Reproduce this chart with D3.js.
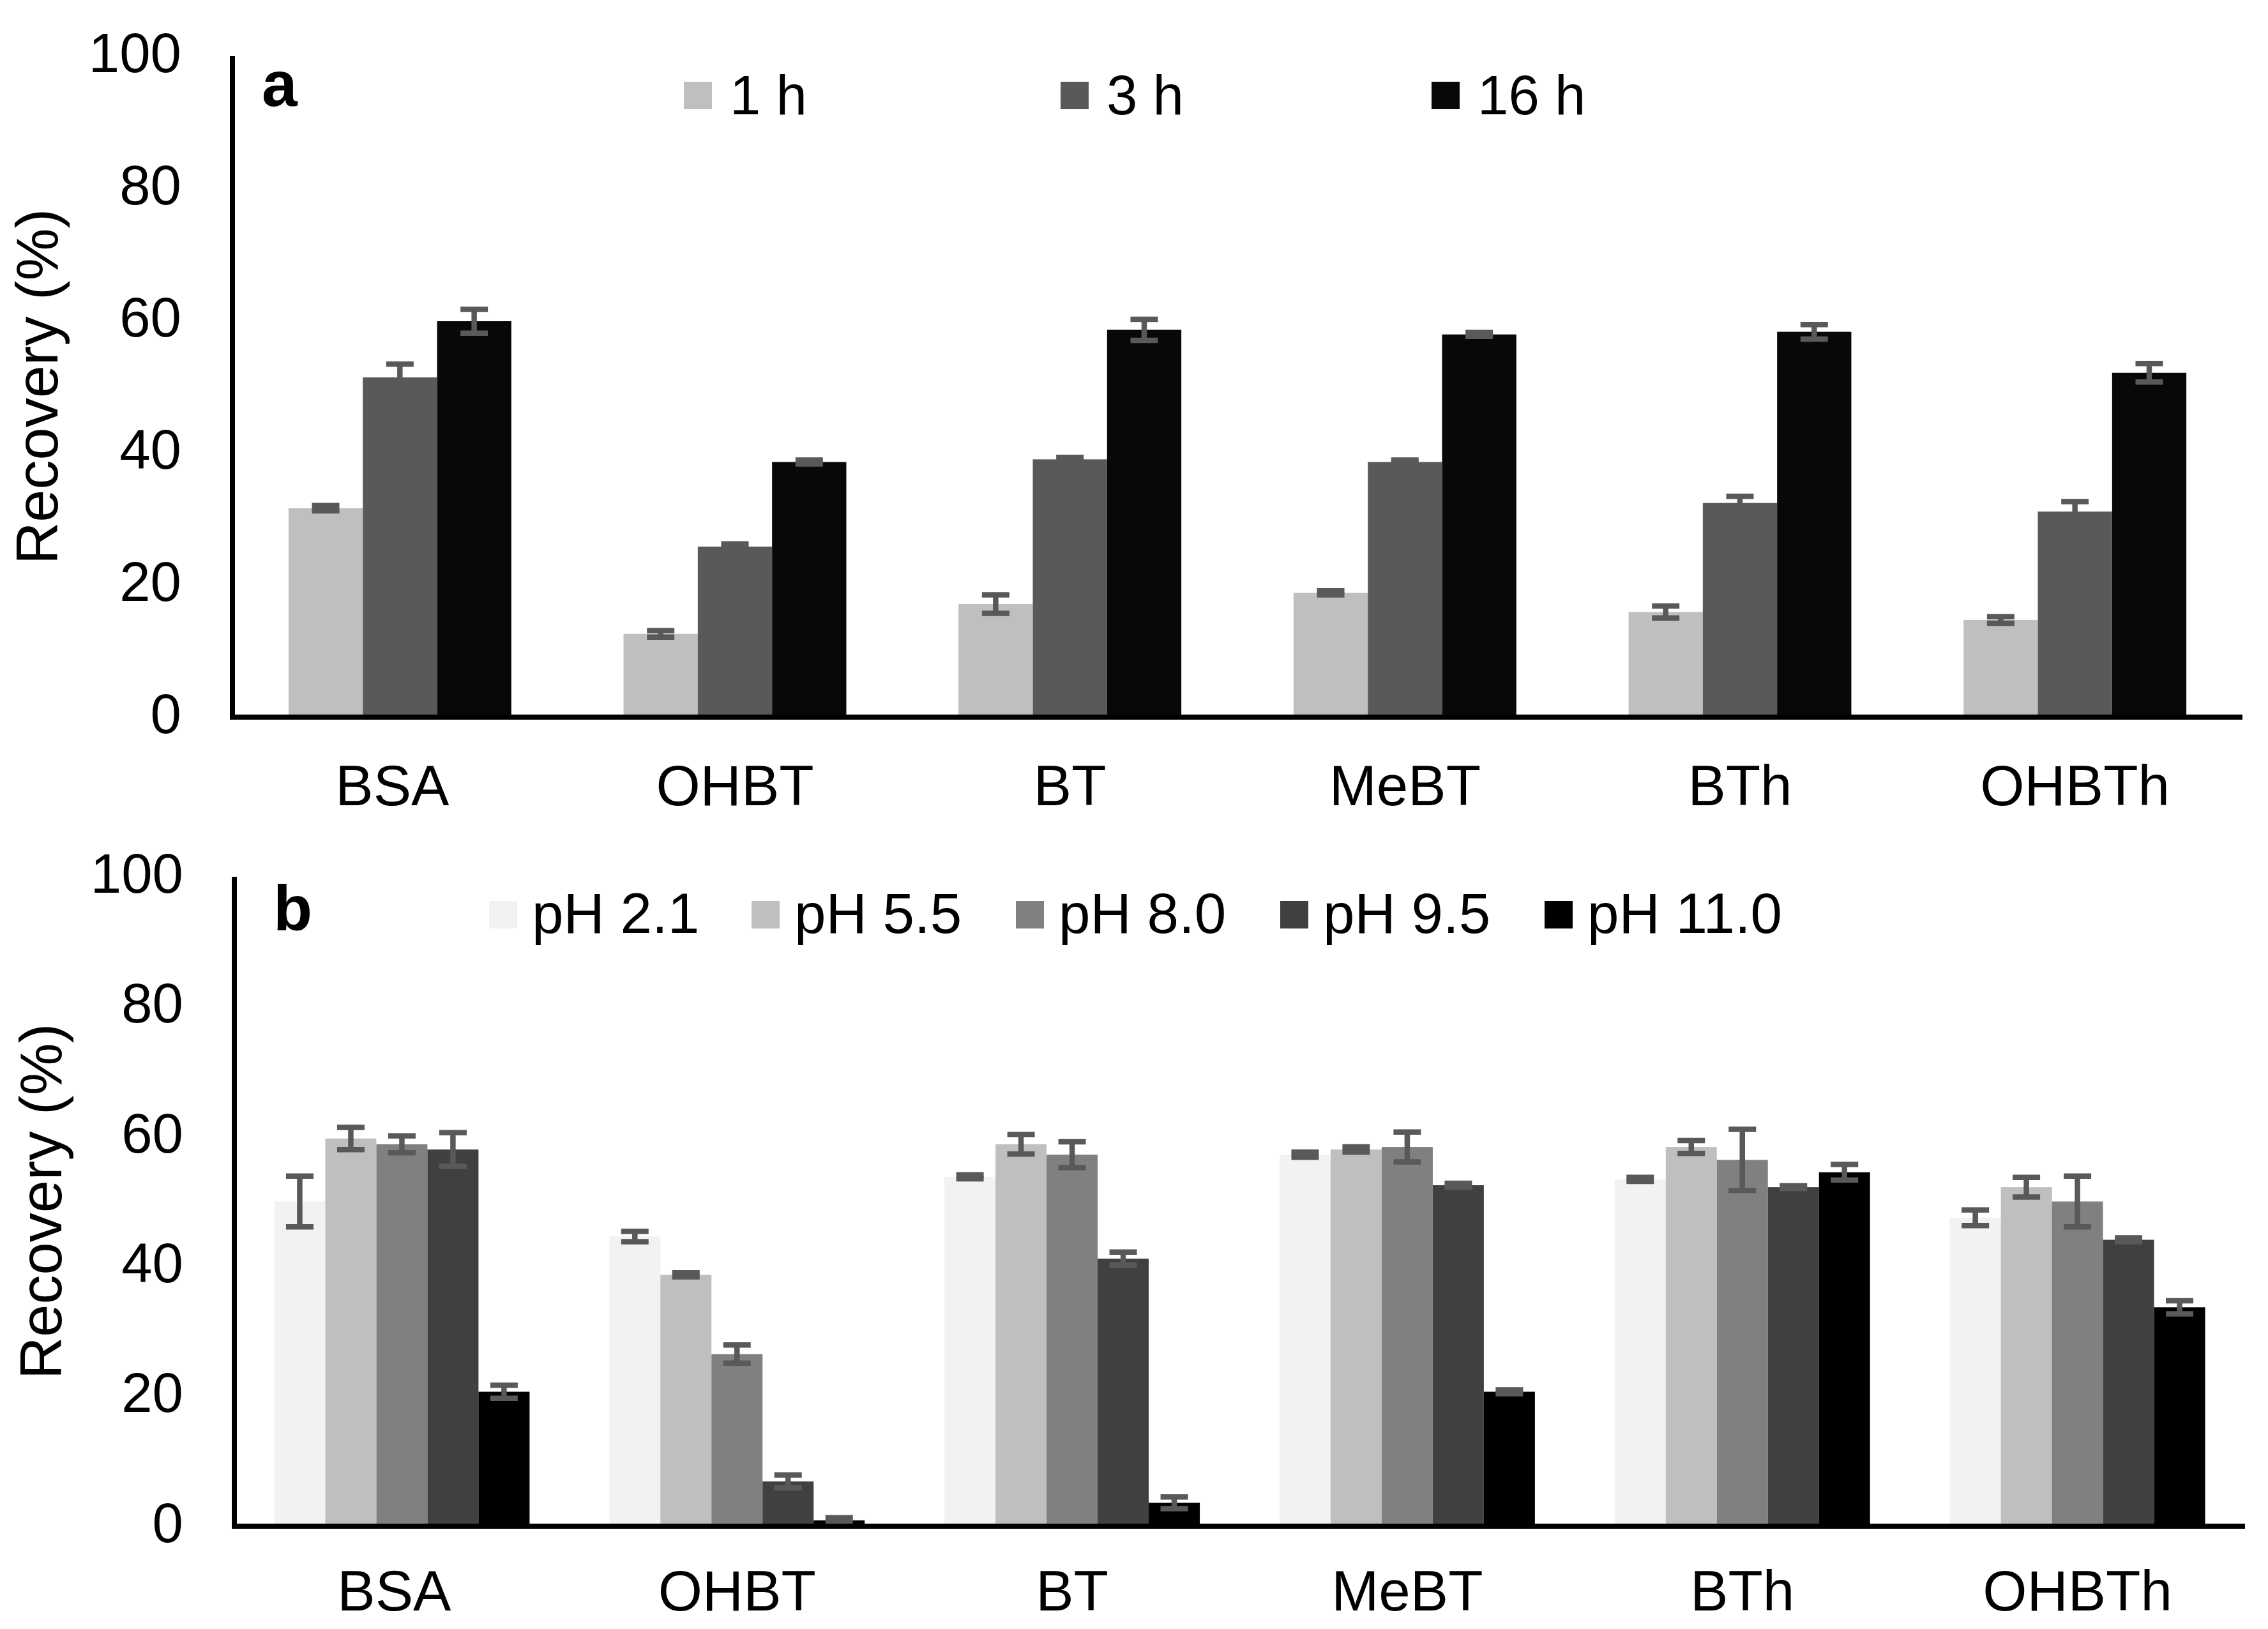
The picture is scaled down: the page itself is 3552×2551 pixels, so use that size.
<!DOCTYPE html>
<html>
<head>
<meta charset="utf-8">
<script src="https://cdn.jsdelivr.net/npm/d3@7/dist/d3.min.js"></script>
<style>
  html, body { margin: 0; padding: 0; background: #fff; }
  svg { display: block; }
  text { font-family: "Liberation Sans", Arial, sans-serif; fill: #000; }
</style>
</head>
<body>
<svg id="chart" width="3552" height="2551"></svg>
<script>
// ---------------- DATA ----------------
const categories = ["BSA", "OHBT", "BT", "MeBT", "BTh", "OHBTh"];
const yTicks = [0, 20, 40, 60, 80, 100];

// Panel a: incubation time
const timeSeries = ["1 h", "3 h", "16 h"];
const time1h  = [31.6, 12.6, 17.1, 18.8, 15.9, 14.7];
const time3h  = [51.4, 25.8, 39.0, 38.6, 32.4, 31.1];
const time16h = [59.9, 38.6, 58.6, 57.9, 58.3, 52.1];
const time1hErr  = [0.4, 0.5, 1.4, 0.3, 0.9, 0.5];
const time3hErr  = [2.0, 0.4, 0.3, 0.3, 1.0, 1.5];
const time16hErr = [1.8, 0.3, 1.6, 0.3, 1.1, 1.4];

// Panel b: pH
const phSeries = ["pH 2.1", "pH 5.5", "pH 8.0", "pH 9.5", "pH 11.0"];
const ph21  = [50.0, 44.6, 53.8, 57.2, 53.4, 47.5];
const ph55  = [59.7, 38.7, 58.8, 58.0, 58.4, 52.2];
const ph80  = [58.8, 26.5, 57.2, 58.4, 56.4, 50.0];
const ph95  = [58.0, 6.9, 41.2, 52.5, 52.2, 44.1];
const ph110 = [20.7, 0.9, 3.6, 20.7, 54.5, 33.7];
const ph21Err  = [3.9, 0.8, 0.3, 0.4, 0.3, 1.2];
const ph55Err  = [1.7, 0.3, 1.5, 0.4, 1.0, 1.5];
const ph80Err  = [1.3, 1.4, 2.0, 2.3, 4.7, 3.9];
const ph95Err  = [2.6, 1.0, 1.0, 0.3, 0.2, 0.3];
const ph110Err = [1.0, 0.4, 0.9, 0.3, 1.2, 1.0];

const timeColors = ["#bfbfbf", "#595959", "#080808"];
const phColors = ["#f2f2f2", "#bfbfbf", "#808080", "#404040", "#000000"];

// ---------------- DRAW ----------------
const svg = d3.select("#chart");
const FONT = 87;

function panel(opts) {
  const g = svg.append("g");
  const x = d3.scaleBand().domain(categories).range([opts.x0, opts.x1])
    .paddingInner(opts.pad).paddingOuter(opts.pad / 2);
  const xs = d3.scaleBand().domain(opts.series).range([0, x.bandwidth()]);
  const y = d3.scaleLinear().domain([0, 100]).range([opts.y0, opts.y100]);

  // table
  const rows = [];
  opts.series.forEach((s, si) => {
    categories.forEach((c, ci) => {
      rows.push({ s, si, c, v: opts.values[si][ci], e: opts.errors[si][ci] });
    });
  });

  // bars
  g.append("g").selectAll("rect").data(rows).join("rect")
    .attr("x", d => x(d.c) + xs(d.s))
    .attr("y", d => y(d.v))
    .attr("width", xs.bandwidth())
    .attr("height", d => y(0) - y(d.v))
    .attr("fill", d => opts.colors[d.si]);

  // error bars
  const eg = g.append("g").attr("stroke", "#595959").attr("stroke-width", 8.5);
  const capW = 43;
  rows.forEach(d => {
    const cx = x(d.c) + xs(d.s) + xs.bandwidth() / 2;
    const yt = y(d.v + d.e), yb = y(d.v - d.e);
    eg.append("line").attr("x1", cx).attr("x2", cx).attr("y1", yt).attr("y2", yb);
    eg.append("line").attr("x1", cx - capW / 2).attr("x2", cx + capW / 2).attr("y1", yt).attr("y2", yt);
    eg.append("line").attr("x1", cx - capW / 2).attr("x2", cx + capW / 2).attr("y1", yb).attr("y2", yb);
  });

  // y axis
  const yAxis = d3.axisLeft(y).tickValues(yTicks).tickSize(0).tickPadding(80);
  const ya = g.append("g").attr("transform", `translate(${opts.x0},0)`).call(yAxis);
  ya.select(".domain").attr("stroke", "#000").attr("stroke-width", 8)
    .attr("d", `M0,${opts.y100}V${opts.y0}`);
  ya.selectAll("text").attr("font-size", FONT).attr("font-family", '"Liberation Sans", Arial, sans-serif')
    .attr("fill", "#000").attr("dy", "0.28em");

  // x axis
  const xAxis = d3.axisBottom(x).tickSize(0).tickPadding(0);
  const xa = g.append("g").attr("transform", `translate(0,${opts.y0})`).call(xAxis);
  xa.select(".domain").attr("stroke", "#000").attr("stroke-width", 8)
    .attr("d", `M${opts.x0 - 4},0H${opts.x1}`);
  xa.selectAll("text").attr("font-size", 89).attr("font-family", '"Liberation Sans", Arial, sans-serif')
    .attr("fill", "#000").attr("dy", null).attr("y", opts.catBase - opts.y0)
    .attr("dx", (d, i) => i === 0 ? -12 : 0);

  // y title
  g.append("text")
    .attr("transform", `translate(${opts.titleX},${(opts.y0 + opts.y100) / 2}) rotate(-90)`)
    .attr("text-anchor", "middle")
    .attr("font-size", 92)
    .text("Recovery (%)");

  // panel letter
  g.append("text").attr("x", opts.letterX).attr("y", opts.letterY)
    .attr("font-size", 100).attr("font-weight", "bold").text(opts.letter);

  // legend
  const lg = g.append("g");
  opts.series.forEach((s, i) => {
    const lx = opts.legX[i];
    lg.append("rect").attr("x", lx).attr("y", opts.legY).attr("width", 44).attr("height", 43)
      .attr("fill", opts.colors[i]);
    lg.append("text").attr("x", lx + opts.legGap).attr("y", opts.legBase)
      .attr("font-size", opts.legFont).text(s);
  });
}

panel({
  series: timeSeries,
  values: [time1h, time3h, time16h],
  errors: [time1hErr, time3hErr, time16hErr],
  colors: timeColors,
  x0: 364, x1: 3512, y0: 1123, y100: 88, pad: 0.335,
  catBase: 1261, titleX: 90,
  letter: "a", letterX: 410, letterY: 166,
  legX: [1071, 1661, 2242], legY: 128, legGap: 72, legBase: 179, legFont: 87
});

panel({
  series: phSeries,
  values: [ph21, ph55, ph80, ph95, ph110],
  errors: [ph21Err, ph55Err, ph80Err, ph95Err, ph110Err],
  colors: phColors,
  x0: 367, x1: 3516, y0: 2390, y100: 1373, pad: 0.238,
  catBase: 2522, titleX: 96,
  letter: "b", letterX: 428, letterY: 1457,
  legX: [766, 1177, 1591, 2005, 2419], legY: 1411, legGap: 67, legBase: 1461, legFont: 89
});
</script>
</body>
</html>
